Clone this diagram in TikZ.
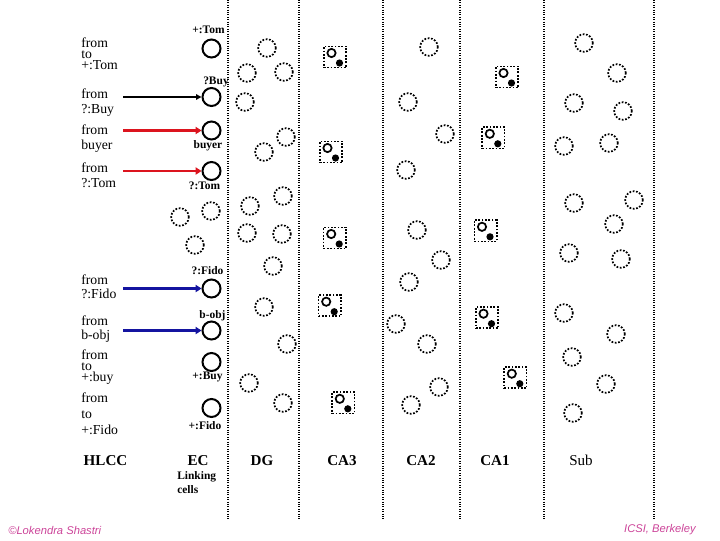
\documentclass[tikz,border=0pt]{standalone}
\usepackage{fontspec}
\setmainfont{Liberation Serif}
\newfontfamily\footfont{Liberation Sans}
\usetikzlibrary{arrows.meta}
\definecolor{arrred}{RGB}{220,20,30}
\definecolor{arrblue}{RGB}{20,20,160}
\definecolor{pinkish}{RGB}{204,68,153}
\newcommand\mkcell[3]{%
  \node[sqbox] (#1) at (#2,#3) {};
  \node[incirc] (#1c) at ([shift={(-3.5,-4)}]#1.center) {};
  \node[blackdot] (#1d) at ([shift={(4.5,6)}]#1.center) {};
}
\begin{document}
\begin{tikzpicture}[x=0.75pt,y=-0.75pt,
  dc/.style={circle,draw,line width=1.3pt,dash pattern=on 1.3pt off 1.2pt,minimum size=13.2pt,inner sep=0pt},
  sc/.style={circle,draw,line width=1.5pt,minimum size=13.5pt,inner sep=0pt},
  sqbox/.style={draw,line width=1.3pt,dash pattern=on 1.3pt off 1.2pt,minimum width=16.7pt,minimum height=15.9pt,inner sep=0pt},
  incirc/.style={circle,draw,line width=1.3pt,minimum size=6.2pt,inner sep=0pt},
  blackdot/.style={circle,fill,minimum size=5.4pt,inner sep=0pt},
  vline/.style={line width=0.8pt,dash pattern=on 0.8pt off 1.0pt},
  lt/.style={anchor=north west,inner sep=0pt,align=left,font=\fontsize{10.3}{10.8}\selectfont},
  ltt/.style={lt,font=\fontsize{10.3}{8.4}\selectfont},
  cl/.style={inner sep=0pt,font=\fontsize{8.6}{10}\selectfont\bfseries},
  colhead/.style={anchor=base,inner sep=0pt,font=\fontsize{11.3}{13}\selectfont\bfseries},
  blkarrow/.style={line width=1.1pt,-{Triangle[length=4pt,width=4pt]}},
  redarrow/.style={arrred,line width=2.2pt,-{Triangle[length=4.5pt,width=5.5pt]}},
  bluearrow/.style={arrblue,line width=2.2pt,-{Triangle[length=4.5pt,width=5.5pt]}},
  foot/.style={pinkish,inner sep=0pt,font=\footfont\itshape\fontsize{8.4}{10}\selectfont}]
\useasboundingbox (0,0) rectangle (720,540);

% vertical dotted separators
\foreach \x [count=\i] in {228,299,383,460,544,654} {
  \coordinate (v\i t) at (\x,0);
  \coordinate (v\i b) at (\x,520);
  \draw[vline] (v\i t) -- (v\i b);
}

% left texts (node top = first baseline - 9.5px)
\node[ltt] (t1) at (81,37.5) {from\\to\\+:Tom};
\node[lt] (t2) at (81,89) {from\\?:Buy};
\node[lt] (t3) at (81,125) {from\\buyer};
\node[lt,font=\fontsize{10.3}{11.3}\selectfont] (t4) at (81,162.5) {from\\?:Tom};
\node[lt] (t5) at (81,274.5) {from\\?:Fido};
\node[lt] (t6) at (81,315.5) {from\\b-obj};
\node[ltt] (t7) at (81,349.5) {from\\to\\+:buy};
\node[lt,font=\fontsize{10.3}{12.2}\selectfont] (t8) at (81,392.5) {from\\to\\+:Fido};

% EC solid circles
\node[sc] (cTom) at (211.5,48.5) {};
\node[sc] (cBuy) at (211.5,97) {};
\node[sc] (cBuyer) at (211.5,130.5) {};
\node[sc] (cQTom) at (211.5,171) {};
\node[sc] (cFido) at (211.5,288.5) {};
\node[sc] (cBobj) at (211.5,330.5) {};
\node[sc] (cPBuy) at (211.5,362) {};
\node[sc] (cPFido) at (211.5,408) {};

% EC labels
\node[cl] (lTom) at (208.5,29.5) {+:Tom};
\node[cl] (lBuy) at (216,82) {?Buy};
\node[cl] (lBuyer) at (208,146) {buyer};
\node[cl] (lQTom) at (204.5,186) {?:Tom};
\node[cl] (lFido) at (207.5,270.5) {?:Fido};
\node[cl] (lBobj) at (212.5,316) {b-obj};
\node[cl] (lPBuy) at (207.5,377) {+:Buy};
\node[cl] (lPFido) at (205,425.5) {+:Fido};

% arrows
\coordinate (s1) at (123,97);
\coordinate (s2) at (123,130.5);
\coordinate (s3) at (123,171);
\coordinate (s4) at (123,288.5);
\coordinate (s5) at (123,330.5);
\draw[blkarrow] (s1) -- (cBuy.west);
\draw[redarrow] (s2) -- (cBuyer.west);
\draw[redarrow] (s3) -- (cQTom.west);
\draw[bluearrow] (s4) -- (cFido.west);
\draw[bluearrow] (s5) -- (cBobj.west);

% dotted circles
\foreach \x/\y [count=\i] in {180/217,211/211,195/245}
  \node[dc] (ec\i) at (\x,\y) {};
\foreach \x/\y [count=\i] in {267/48,247/73,284/72,245/102,286/137,264/152,283/196,250/206,247/233,282/234,273/266,264/307,287/344,249/383,283/403}
  \node[dc] (dg\i) at (\x,\y) {};
\foreach \x/\y [count=\i] in {429/47,408/102,445/134,406/170,417/230,441/260,409/282,396/324,427/344,439/387,411/405}
  \node[dc] (cb\i) at (\x,\y) {};
\foreach \x/\y [count=\i] in {584/43,617/73,574/103,623/111,564/146,609/143,574/203,634/200,614/224,569/253,621/259,564/313,616/334,572/357,606/384,573/413}
  \node[dc] (sb\i) at (\x,\y) {};

% CA3 cells
\mkcell{ca3a}{335}{57}
\mkcell{ca3b}{331}{152}
\mkcell{ca3c}{334.7}{238}
\mkcell{ca3d}{329.7}{305.7}
\mkcell{ca3e}{343.3}{402.8}
% CA1 cells
\mkcell{ca1a}{507}{77}
\mkcell{ca1b}{493.3}{137.8}
\mkcell{ca1c}{485.5}{230.8}
\mkcell{ca1d}{487}{317.7}
\mkcell{ca1e}{515.3}{377.7}

% column headings
\node[colhead] (hHLCC) at (105.5,465) {HLCC};
\node[colhead] (hEC) at (198,465) {EC};
\node[colhead] (hDG) at (262,465) {DG};
\node[colhead] (hCA3) at (342,465) {CA3};
\node[colhead] (hCA2) at (421,465) {CA2};
\node[colhead] (hCA1) at (495,465) {CA1};
\node[colhead,font=\fontsize{11.3}{13}\selectfont] (hSub) at (581,465) {Sub};
\node[anchor=north west,inner sep=0pt,align=left,font=\fontsize{8.6}{11}\selectfont\bfseries] (link) at (177,471) {Linking\\cells};

% footer
\node[foot,anchor=west] (fl) at (8,530) {©Lokendra Shastri};
\node[foot,anchor=east] (fr) at (696,530) {ICSI, Berkeley};
\end{tikzpicture}
\end{document}
